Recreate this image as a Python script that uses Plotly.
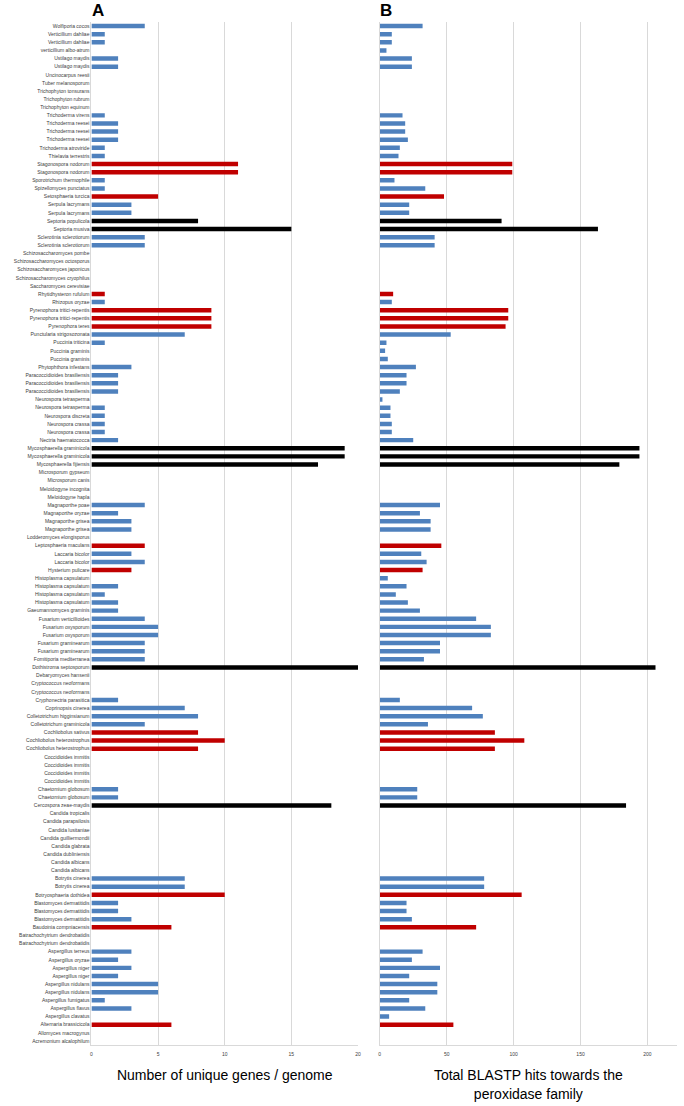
import plotly.graph_objects as go

species = [
    "Wolfiporia cocos", "Verticillium dahliae", "Verticillium dahliae", "verticillium albo-atrum",
    "Ustilago maydis", "Ustilago maydis", "Uncinocarpus reesii", "Tuber melanosporum",
    "Trichophyton tonsurans", "Trichophyton rubrum", "Trichophyton equinum", "Trichoderma virens",
    "Trichoderma reesei", "Trichoderma reesei", "Trichoderma reesei", "Trichoderma atroviride",
    "Thielavia terrestris", "Stagonospora nodorum", "Stagonospora nodorum", "Sporotrichum thermophile",
    "Spizellomyces punctatus", "Setosphaeria turcica", "Serpula lacrymans", "Serpula lacrymans",
    "Septoria populicola", "Septoria musiva", "Sclerotinia sclerotiorum", "Sclerotinia sclerotiorum",
    "Schizosaccharomyces pombe", "Schizosaccharomyces octosporus", "Schizosaccharomyces japonicus",
    "Schizosaccharomyces cryophilus", "Saccharomyces cerevisiae", "Rhytidhysteron rufulum",
    "Rhizopus oryzae", "Pyrenophora tritici-repentis", "Pyrenophora tritici-repentis", "Pyrenophora teres",
    "Punctularia strigosozonata", "Puccinia triticina", "Puccinia graminis", "Puccinia graminis",
    "Phytophthora infestans", "Paracoccidioides brasiliensis", "Paracoccidioides brasiliensis",
    "Paracoccidioides brasiliensis", "Neurospora tetrasperma", "Neurospora tetrasperma",
    "Neurospora discreta", "Neurospora crassa", "Neurospora crassa", "Nectria haematococca",
    "Mycosphaerella graminicola", "Mycosphaerella graminicola", "Mycosphaerella fijiensis",
    "Microsporum gypseum", "Microsporum canis", "Meloidogyne incognita", "Meloidogyne hapla",
    "Magnaporthe poae", "Magnaporthe oryzae", "Magnaporthe grisea", "Magnaporthe grisea",
    "Lodderomyces elongisporus", "Leptosphaeria maculans", "Laccaria bicolor", "Laccaria bicolor",
    "Hysterium pulicare", "Histoplasma capsulatum", "Histoplasma capsulatum", "Histoplasma capsulatum",
    "Histoplasma capsulatum", "Gaeumannomyces graminis", "Fusarium verticillioides", "Fusarium oxysporum",
    "Fusarium oxysporum", "Fusarium graminearum", "Fusarium graminearum", "Fomitiporia mediterranea",
    "Dothistroma septosporum", "Debaryomyces hansenii", "Cryptococcus neoformans", "Cryptococcus neoformans",
    "Cryphonectria parasitica", "Coprinopsis cinerea", "Colletotrichum higginsianum",
    "Colletotrichum graminicola", "Cochliobolus sativus", "Cochliobolus heterostrophus",
    "Cochliobolus heterostrophus", "Coccidioides immitis", "Coccidioides immitis", "Coccidioides immitis",
    "Coccidioides immitis", "Chaetomium globosum", "Chaetomium globosum", "Cercospora zeae-maydis",
    "Candida tropicalis", "Candida parapsilosis", "Candida lusitaniae", "Candida guilliermondii",
    "Candida glabrata", "Candida dubliniensis", "Candida albicans", "Candida albicans",
    "Botrytis cinerea", "Botrytis cinerea", "Botryosphaeria dothidea", "Blastomyces dermatitidis",
    "Blastomyces dermatitidis", "Blastomyces dermatitidis", "Baudoinia compniacensis",
    "Batrachochytrium dendrobatidis", "Batrachochytrium dendrobatidis", "Aspergillus terreus",
    "Aspergillus oryzae", "Aspergillus niger", "Aspergillus niger", "Aspergillus nidulans",
    "Aspergillus nidulans", "Aspergillus fumigatus", "Aspergillus flavus", "Aspergillus clavatus",
    "Alternaria brassicicola", "Allomyces macrogynus", "Acremonium alcalophilum",
]

unique_genes = [
    4, 1, 1, 0, 2, 2, 0, 0, 0, 0, 0, 1, 2, 2, 2, 1, 1, 11, 11, 1, 1, 5, 3, 3, 8, 15, 4, 4,
    0, 0, 0, 0, 0, 1, 1, 9, 9, 9, 7, 1, 0, 0, 3, 2, 2, 2, 0, 1, 1, 1, 1, 2, 19, 19, 17,
    0, 0, 0, 0, 4, 2, 3, 3, 0, 4, 3, 4, 3, 0, 2, 1, 2, 2, 4, 5, 5, 4, 4, 4, 20, 0, 0, 0,
    2, 7, 8, 4, 8, 10, 8, 0, 0, 0, 0, 2, 2, 18, 0, 0, 0, 0, 0, 0, 0, 0, 7, 7, 10, 2, 2, 3,
    6, 0, 0, 3, 2, 3, 2, 5, 5, 1, 3, 0, 6, 0, 0,
]

blastp_hits = [
    32, 9, 9, 5, 24, 24, 0, 0, 0, 0, 0, 17, 19, 19, 21, 15, 14, 99, 99, 11, 34, 48, 22, 22,
    91, 163, 41, 41, 0, 0, 0, 0, 0, 10, 9, 96, 96, 94, 53, 5, 4, 6, 27, 20, 20, 15, 2, 8, 8,
    9, 9, 25, 194, 194, 179, 0, 0, 0, 0, 45, 30, 38, 38, 0, 46, 31, 35, 32, 6, 20, 12, 21,
    30, 72, 83, 83, 45, 45, 33, 206, 0, 0, 0, 15, 69, 77, 36, 86, 108, 86, 0, 0, 0, 0, 28,
    28, 184, 0, 0, 0, 0, 0, 0, 0, 0, 78, 78, 106, 20, 20, 24, 72, 0, 0, 32, 24, 45, 22, 43,
    43, 22, 34, 7, 55, 0, 0,
]

# rows (0-based, top to bottom) highlighted in red and in black
red_rows = [17, 18, 21, 33, 35, 36, 37, 64, 67, 87, 88, 89, 107, 111, 123]
black_rows = [24, 25, 52, 53, 54, 79, 96]

x_ticks_a = [0, 5, 10, 15, 20]
x_ticks_b = [0, 50, 100, 150, 200]

BLUE, RED, BLACK = "#4F81BD", "#C00000", "#000000"
colors = [RED if i in red_rows else BLACK if i in black_rows else BLUE
          for i in range(len(species))]
ypos = list(range(len(species)))

fig = go.Figure()
fig.add_trace(go.Bar(x=unique_genes, y=ypos, orientation="h", marker_color=colors,
                     marker_line_width=0, xaxis="x", yaxis="y", showlegend=False))
fig.add_trace(go.Bar(x=blastp_hits, y=ypos, orientation="h", marker_color=colors,
                     marker_line_width=0, xaxis="x2", yaxis="y2", showlegend=False))

grid = "#D9D9D9"
tickfont = dict(family="Liberation Sans, Arial", size=5, color="#404040")
fig.update_layout(
    width=684, height=1106,
    margin=dict(l=0, r=0, t=22, b=61),
    paper_bgcolor="white", plot_bgcolor="white",
    bargap=0.45,
    font=dict(family="Liberation Sans, Arial"),
    xaxis=dict(domain=[0.133, 0.525], range=[0, 20], tickvals=x_ticks_a,
               showgrid=True, gridcolor=grid, gridwidth=1, zeroline=False,
               showline=True, linecolor=grid, ticks="outside", ticklen=4,
               tickcolor="rgba(0,0,0,0)", tickfont=tickfont,
               title=dict(text="Number of unique genes / genome",
                          font=dict(size=14, color="black"), standoff=14)),
    yaxis=dict(domain=[0, 1], range=[len(species) - 0.5, -0.5], tickvals=ypos,
               ticktext=species, tickfont=tickfont, showgrid=False, zeroline=False,
               showline=True, linecolor=grid, ticks=""),
    xaxis2=dict(domain=[0.557, 0.994], range=[0, 222], tickvals=x_ticks_b,
                showgrid=True, gridcolor=grid, gridwidth=1, zeroline=False,
                showline=True, linecolor=grid, ticks="outside", ticklen=4,
                tickcolor="rgba(0,0,0,0)", tickfont=tickfont, anchor="y2",
                title=dict(text="Total BLASTP hits towards the<br>peroxidase family",
                           font=dict(size=14, color="black"), standoff=14)),
    yaxis2=dict(domain=[0, 1], range=[len(species) - 0.5, -0.5], anchor="x2",
                showticklabels=False, showgrid=False, zeroline=False,
                showline=True, linecolor=grid, ticks=""),
    annotations=[
        dict(text="<b>A</b>", x=0.131, y=1.0, xref="paper", yref="paper", yshift=12,
             xanchor="left", yanchor="middle", showarrow=False,
             font=dict(size=17, color="black")),
        dict(text="<b>B</b>", x=0.555, y=1.0, xref="paper", yref="paper", yshift=12,
             xanchor="left", yanchor="middle", showarrow=False,
             font=dict(size=17, color="black")),
    ],
)

fig.write_html("out.html", config={"displayModeBar": False},
               post_script="document.body.style.margin='0';")
